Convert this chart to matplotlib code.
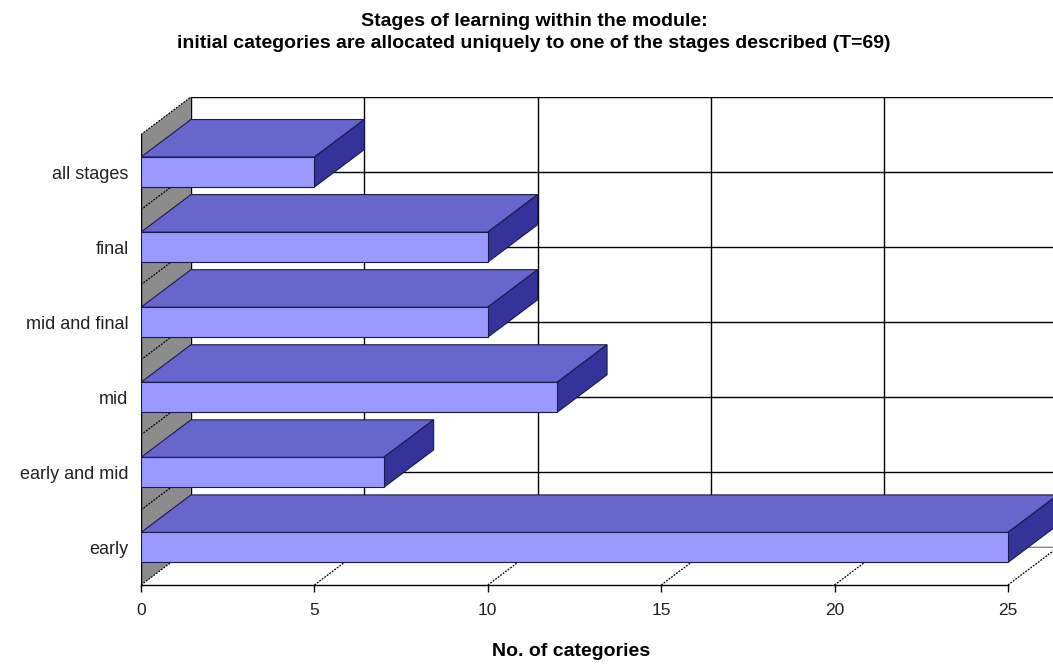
import matplotlib
matplotlib.use("Agg")
import matplotlib.pyplot as plt
from matplotlib.patches import Polygon

plt.rcParams["font.family"] = ["Liberation Sans", "DejaVu Sans"]

categories = ["early", "early and mid", "mid", "mid and final", "final", "all stages"]
counts = [25, 7, 12, 10, 10, 5]
x_ticks = [0, 5, 10, 15, 20, 25]

title_lines = ["Stages of learning within the module:",
               "initial categories are allocated uniquely to one of the stages described (T=69)"]
x_label = "No. of categories"

# fake 3d depth offset (data units)
DX = 1.44
DY = 0.5
HALF = 0.2

FRONT = "#9999ff"
TOP = "#6666cc"
SIDE = "#333399"
WALL = "#8c8c8c"

W, H = 1053, 664
fig = plt.figure(figsize=(W / 100, H / 100), dpi=100)
ax = fig.add_axes([141 / W, (H - 585) / H, 912 / W, 488 / H])
ax.set_xlim(0, 26.3)
ax.set_ylim(-0.5, len(categories))
for s in ax.spines.values():
    s.set_visible(False)

n = len(categories)
lo, hi = -0.5, n - 0.5
xmax = x_ticks[-1]

# back wall grid
for k in range(n + 1):
    ax.plot([DX, 30], [k, k], color="black", lw=1.0, zorder=1)
for t in x_ticks[1:]:
    ax.plot([t + DX, t + DX], [lo + DY, hi + DY], color="black", lw=1.0, zorder=1)
ax.plot([DX, DX], [lo + DY, hi + DY], color="black", lw=1.0, zorder=1)

# left wall
ax.add_patch(Polygon([(0, lo), (DX, lo + DY), (DX, hi + DY), (0, hi)],
                     closed=True, facecolor=WALL, edgecolor="none", zorder=2))
for k in range(n + 1):
    ax.plot([0, DX], [lo + k, lo + k + DY], color="black", lw=0.9,
            ls=(0, (1.5, 1)), zorder=3)
ax.plot([0, 0], [lo, hi], color="black", lw=1.0, zorder=3)

# floor
ax.add_patch(Polygon([(0, lo), (xmax, lo), (xmax + DX, lo + DY), (DX, lo + DY)],
                     closed=True, facecolor="white", edgecolor="none", zorder=2))
for t in x_ticks[1:]:
    ax.plot([t, t + DX], [lo, lo + DY], color="black", lw=0.9,
            ls=(0, (1.5, 1)), zorder=3)
ax.plot([0, xmax], [lo, lo], color="black", lw=1.0, zorder=3, clip_on=False)

# bars
for i, v in enumerate(counts):
    y0, y1 = i - HALF, i + HALF
    ax.add_patch(Polygon([(0, y1), (v, y1), (v + DX, y1 + DY), (DX, y1 + DY)],
                         closed=True, facecolor=TOP, edgecolor="#1a1a4d", lw=0.8, zorder=5))
    ax.add_patch(Polygon([(v, y0), (v, y1), (v + DX, y1 + DY), (v + DX, y0 + DY)],
                         closed=True, facecolor=SIDE, edgecolor="#1a1a4d", lw=0.8, zorder=5))
    ax.add_patch(Polygon([(0, y0), (v, y0), (v, y1), (0, y1)],
                         closed=True, facecolor=FRONT, edgecolor="#1a1a4d", lw=0.8, zorder=6))

ax.set_xticks(x_ticks)
ax.set_xticklabels([str(t) for t in x_ticks], fontsize=12.5, color="#222222")
ax.tick_params(axis="x", length=5, width=1, pad=8, direction="out")
ax.set_yticks(range(n))
ax.set_yticklabels(categories, fontsize=13, color="#222222")
ax.tick_params(axis="y", length=0, pad=9)

fig.text(534 / W, 1 - 22 / H, title_lines[0], ha="center", va="center",
         fontsize=14, fontweight="bold")
fig.text(534 / W, 1 - 44 / H, title_lines[1], ha="center", va="center",
         fontsize=14, fontweight="bold")
fig.text(571 / W, 1 - 651 / H, x_label, ha="center", va="center",
         fontsize=14, fontweight="bold")

fig.savefig("out.png", dpi=100)
